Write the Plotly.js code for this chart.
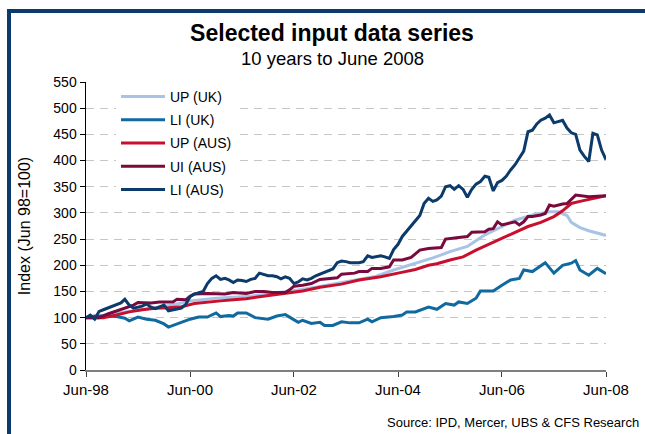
<!DOCTYPE html>
<html>
<head>
<meta charset="utf-8">
<script src="https://cdn.plot.ly/plotly-3.0.1.min.js"></script>
<style>
  html, body { margin: 0; padding: 0; background: #ffffff; overflow: hidden; }
  #wrap { position: relative; width: 645px; height: 434px; overflow: hidden; }
  #chart { position: absolute; left: 0; top: 0; width: 645px; height: 434px; }
  #frame { position: absolute; left: 7px; top: 9px; width: 700px; height: 423px;
           border-left: 4px solid #0c3a6a; border-top: 4px solid #0c3a6a;
           border-bottom: 1px solid #dfe4ea; pointer-events: none; }
</style>
</head>
<body>
<div id="wrap">
  <div id="chart"></div>
  <div id="frame"></div>
</div>
<script>
// ---- Data (month offsets counted from Jun-98, values index Jun 98 = 100) ----
const seriesNames = ["UP (UK)", "LI (UK)", "UP (AUS)", "UI (AUS)", "LI (AUS)"];

const monthsUPUK = [0,3,6,10,15,20,24,27,30,34,38,41,45,49,53,57,61,64,67,71,76,80,84,88,92,96,99,103,107,109,111,112,114,116,118,120];
const valuesUPUK = [100,102,107,112,118,124,132,135,137,139,141,144,148,153,158,164,171,175,179,191,203,214,226,236,258,274,286,296,302,302,295,282,272,266,262,257];

const monthsLIUK = [0,2,4,7,9,10,12,14,16,18,19,21,24,26,28,30,31,33,34,35,37,39,42,44,46,47,49,50,52,54,55,57,59,61,63,65,66,68,71,73,74,76,79,81,83,85,86,88,90,91,94,96,98,100,101,103,105,106,108,110,112,113,114,116,118,120];
const valuesLIUK = [100,103,103,102,99,94,101,97,95,88,82,88,97,101,101,109,102,104,103,109,109,100,97,103,106,101,91,95,89,91,85,85,92,90,90,97,92,100,102,105,111,111,120,116,127,124,130,127,137,151,151,162,172,175,191,188,200,205,185,200,204,209,191,181,194,184];

const monthsUPAUS = [0,4,7,10,13,16,19,22,25,28,31,34,37,40,45,50,54,59,63,68,72,76,79,81,84,87,90,93,96,99,102,105,108,110,112,114,117,120];
const valuesUPAUS = [100,100,105,111,115,118,119,121,127,130,132,134,136,140,145,151,158,164,172,178,185,192,200,203,210,216,229,240,251,263,274,282,293,304,318,322,328,333];

const monthsUIAUS = [0,3,5,7,9,11,12,15,17,20,21,23,24,25,28,31,32,34,37,39,41,43,46,47,48,50,52,54,56,58,59,62,63,65,66,68,70,71,73,75,77,79,82,83,86,88,89,92,93,94,95,96,98,99,100,101,102,103,105,106,107,108,110,111,113,115,116,118,120];
const valuesUIAUS = [100,100,107,113,118,124,129,128,130,130,135,134,141,145,146,146,145,148,146,150,150,148,148,153,160,162,165,173,174,176,183,185,188,188,194,194,197,210,210,215,229,232,234,250,253,255,263,264,269,270,283,277,281,283,277,283,293,293,296,299,315,313,317,318,334,332,331,332,333];

const monthsLIAUS = [0,1,2,3,4,5,6,7,8,9,10,11,12,13,14,15,16,17,18,19,20,21,22,23,24,25,26,27,28,29,30,31,32,33,34,35,36,37,38,39,40,41,42,43,44,45,46,47,48,49,50,51,52,53,54,55,56,57,58,59,60,61,62,63,64,65,66,67,68,69,70,71,72,73,74,75,76,77,78,79,80,81,82,83,84,85,86,87,88,89,90,91,92,93,94,95,96,97,98,99,100,101,102,103,104,105,106,107,108,109,110,111,112,113,114,115,116,117,118,119,120];
const valuesLIAUS = [100,105,97,112,115,118,122,125,128,135,124,118,120,122,126,120,117,121,124,113,115,117,118,125,140,145,148,150,165,175,180,173,175,172,167,172,171,169,173,175,185,182,180,180,178,174,178,175,165,168,174,172,175,180,183,186,189,193,205,208,207,205,205,205,207,218,215,217,218,216,213,230,240,255,265,274,283,295,318,328,322,325,332,350,352,345,352,345,330,345,355,360,370,368,342,358,362,370,382,392,405,418,455,458,470,477,481,487,472,474,477,462,453,450,420,408,398,452,449,420,402];

const xTickLabels = ["Jun-98", "Jun-00", "Jun-02", "Jun-04", "Jun-06", "Jun-08"];
const xTickMonths = [0, 24, 48, 72, 96, 120];

const colors = ["#a7c4e6", "#10699f", "#c8102e", "#7a0a3b", "#0c3a6a"];

// ---- helpers ----
function monthToDate(m) {
  const y = 1998 + Math.floor((5 + m) / 12);
  const mo = ((5 + m) % 12) + 1;
  return y + "-" + String(mo).padStart(2, "0") + "-01";
}

const allMonths = [monthsUPUK, monthsLIUK, monthsUPAUS, monthsUIAUS, monthsLIAUS];
const allValues = [valuesUPUK, valuesLIUK, valuesUPAUS, valuesUIAUS, valuesLIAUS];

const traces = seriesNames.map((name, i) => ({
  type: "scatter",
  mode: "lines",
  name: name,
  legendgroup: "g" + i,
  x: allMonths[i].map(monthToDate),
  y: allValues[i],
  line: { color: colors[i], width: 3 },
  hoverinfo: "x+y+name"
}));

const L = 86, R = 39, T = 82, B = 64;
const W = 645, H = 434;
const pw = W - L - R, ph = H - T - B;
const px = v => (v - L) / pw;          // pixel x -> paper x
const py = v => (H - B - v) / ph;      // pixel y -> paper y

const font = "Liberation Sans, Arial, sans-serif";

const layout = {
  width: W,
  height: H,
  margin: { l: L, r: R, t: T, b: B, pad: 0 },
  paper_bgcolor: "#ffffff",
  plot_bgcolor: "#ffffff",
  font: { family: font, color: "#000000", size: 14 },
  title: {
    text: "<b>Selected input data series</b>",
    font: { family: font, size: 23, color: "#000000" },
    xref: "container", yref: "container",
    x: 332 / W, xanchor: "center",
    y: 1 - 33 / H, yanchor: "middle"
  },
  showlegend: true,
  legend: {
    x: px(116), y: py(81), xanchor: "left", yanchor: "top",
    bgcolor: "#ffffff",
    font: { family: font, size: 14, color: "#000000" },
    tracegroupgap: 2,
    traceorder: "grouped",
    itemwidth: 44
  },
  xaxis: {
    type: "date",
    range: [monthToDate(0), monthToDate(120)],
    tickvals: xTickMonths.map(monthToDate),
    ticktext: xTickLabels,
    showgrid: false,
    zeroline: false,
    showline: true,
    linecolor: "#7f7f7f",
    linewidth: 2,
    ticks: "outside",
    ticklen: 5,
    tickcolor: "#404040",
    tickwidth: 1,
    tickfont: { family: font, size: 15, color: "#000000" },
    fixedrange: true
  },
  yaxis: {
    range: [0, 550],
    dtick: 50,
    tick0: 0,
    showgrid: true,
    gridcolor: "#c6c6c6",
    gridwidth: 1,
    griddash: "8px,6px",
    zeroline: false,
    showline: true,
    linecolor: "#000000",
    linewidth: 1.5,
    ticks: "outside",
    ticklen: 5,
    tickcolor: "#000000",
    tickfont: { family: font, size: 14, color: "#000000" },
    title: {
      text: "Index (Jun 98=100)",
      font: { family: font, size: 16, color: "#000000" },
      standoff: 18
    },
    fixedrange: true
  },
  annotations: [
    { text: "10 years to June 2008", xref: "paper", yref: "paper",
      x: px(332), y: py(58), xanchor: "center", yanchor: "middle",
      showarrow: false, font: { family: font, size: 18.5, color: "#000000" } },
    { text: "Source: IPD, Mercer, UBS & CFS Research", xref: "paper", yref: "paper",
      x: px(641), y: py(422), xanchor: "right", yanchor: "middle",
      showarrow: false, font: { family: font, size: 13, color: "#000000" } }
  ]
};

Plotly.newPlot("chart", traces, layout, { displayModeBar: false, staticPlot: true });
</script>
</body>
</html>
